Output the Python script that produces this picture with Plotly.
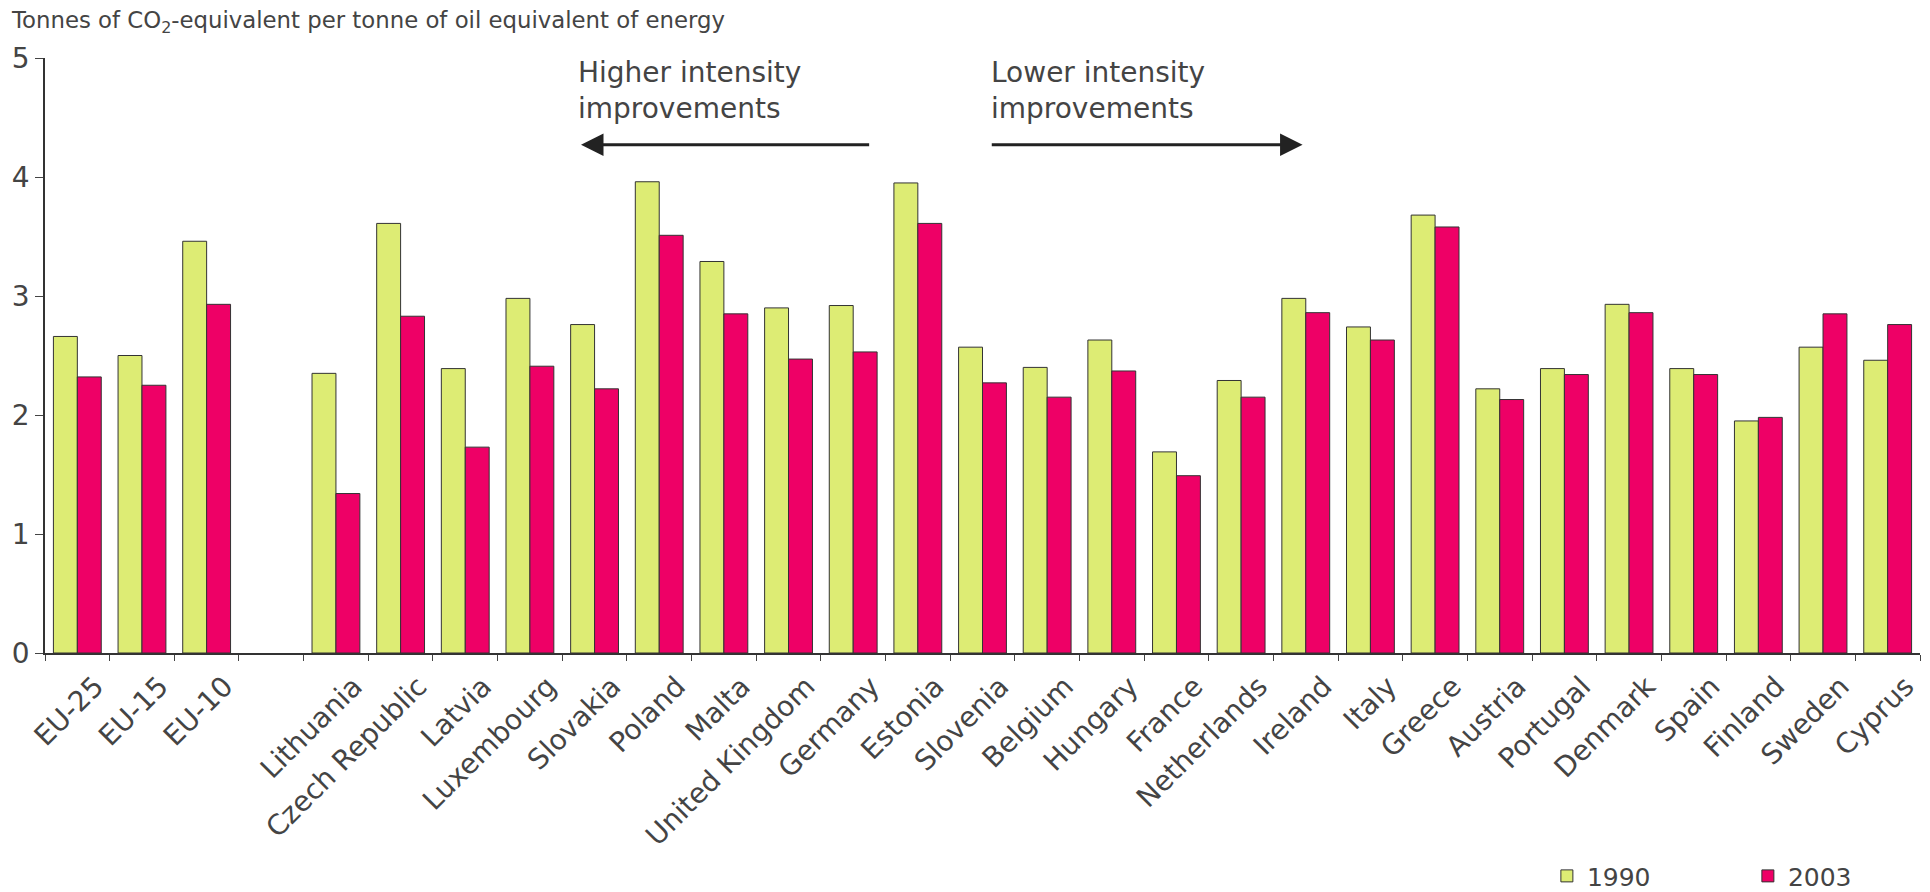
import plotly.graph_objects as go

categories = ["EU-25", "EU-15", "EU-10", " ", "Lithuania", "Czech Republic", "Latvia",
              "Luxembourg", "Slovakia", "Poland", "Malta", "United Kingdom", "Germany",
              "Estonia", "Slovenia", "Belgium", "Hungary", "France", "Netherlands",
              "Ireland", "Italy", "Greece", "Austria", "Portugal", "Denmark", "Spain",
              "Finland", "Sweden", "Cyprus"]

values_1990 = [2.66, 2.50, 3.46, None, 2.35, 3.61, 2.39, 2.98, 2.76, 3.96, 3.29, 2.90, 2.92,
               3.95, 2.57, 2.40, 2.63, 1.69, 2.29, 2.98, 2.74, 3.68, 2.22, 2.39, 2.93, 2.39,
               1.95, 2.57, 2.46]
values_2003 = [2.32, 2.25, 2.93, None, 1.34, 2.83, 1.73, 2.41, 2.22, 3.51, 2.85, 2.47, 2.53,
               3.61, 2.27, 2.15, 2.37, 1.49, 2.15, 2.86, 2.63, 3.58, 2.13, 2.34, 2.86, 2.34,
               1.98, 2.85, 2.76]

series_names = ["1990", "2003"]
y_ticks = [0, 1, 2, 3, 4, 5]

TXT = "#444444"
FONT = "DejaVu Sans"

fig = go.Figure()
fig.add_trace(go.Bar(x=categories, y=values_1990, name=series_names[0],
                     marker=dict(color="#DDEC74", line=dict(color="#333333", width=1))))
fig.add_trace(go.Bar(x=categories, y=values_2003, name=series_names[1],
                     marker=dict(color="#EE0066", line=dict(color="#333333", width=1))))

# the page body adds an 8px margin, so the figure is 8px smaller than the window
fig.update_layout(
    template="none",
    width=1922, height=884,
    margin=dict(l=37, r=10, t=50, b=239, autoexpand=False),
    paper_bgcolor="white", plot_bgcolor="white",
    barmode="group", bargap=0.26, bargroupgap=0,
    font=dict(family=FONT, color=TXT),
    showlegend=True,
    legend=dict(orientation="h", x=0.801, xanchor="left", y=-0.375, yanchor="middle",
                font=dict(size=25, color=TXT, family=FONT),
                entrywidth=156, entrywidthmode="pixels", bgcolor="rgba(0,0,0,0)"),
    xaxis=dict(type="category", showline=True, linecolor="#333333", linewidth=1.5,
               ticks="outside", tickson="boundaries", ticklen=6, tickcolor="#444444",
               tickangle=-45, tickfont=dict(size=28, color=TXT, family=FONT),
               ticklabelstandoff=4, ticklabelshift=18, automargin=False,
               showgrid=False, zeroline=False),
    yaxis=dict(range=[0, 5], tickvals=y_ticks, showline=True, linecolor="#333333",
               linewidth=1.5, ticks="outside", ticklen=8, tickcolor="#444444",
               tickfont=dict(size=28, color=TXT, family=FONT), automargin=False,
               showgrid=False, zeroline=False),
)

annotations = [
    dict(xref="paper", yref="paper", x=-0.0192, y=1.060, xanchor="left", yanchor="middle",
         text="Tonnes of CO<sub>2</sub>-equivalent per tonne of oil equivalent of energy",
         showarrow=False, font=dict(size=22.8, color=TXT, family=FONT)),
    dict(xref="x", yref="y", x=7.72, y=4.73, xanchor="left", yanchor="middle", align="left",
         text="Higher intensity<br>improvements", showarrow=False,
         font=dict(size=28, color=TXT, family=FONT)),
    dict(xref="x", yref="y", x=14.1, y=4.73, xanchor="left", yanchor="middle", align="left",
         text="Lower intensity<br>improvements", showarrow=False,
         font=dict(size=28, color=TXT, family=FONT)),
    dict(xref="x", yref="y", axref="x", ayref="y", x=7.79, y=4.27, ax=12.27, ay=4.27,
         text="", showarrow=True, arrowhead=2, arrowsize=1.5, arrowwidth=3,
         arrowcolor="#222222", standoff=0, startstandoff=0),
    dict(xref="x", yref="y", axref="x", ayref="y", x=18.95, y=4.27, ax=14.12, ay=4.27,
         text="", showarrow=True, arrowhead=2, arrowsize=1.5, arrowwidth=3,
         arrowcolor="#222222", standoff=0, startstandoff=0),
]
fig.update_layout(annotations=annotations)

fig.write_html("out.html")
